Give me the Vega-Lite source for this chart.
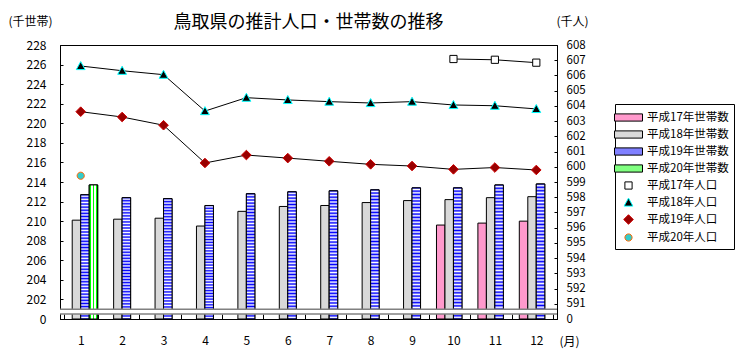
{
  "$schema": "https://vega.github.io/schema/vega-lite/v6.json",
  "width": 497,
  "height": 274,
  "autosize": "none",
  "padding": {"left": 60, "top": 45, "right": 183, "bottom": 37},
  "background": "white",
  "config": {
    "font": "Noto Sans CJK JP",
    "view": {"stroke": "black", "strokeWidth": 1},
    "axis": {"domainColor": "black", "tickColor": "black", "labelColor": "black", "labelFont": "Noto Sans CJK JP", "labelFontSize": 12, "grid": false, "titleFont": "Noto Sans CJK JP", "titleFontSize": 12, "titleFontWeight": "normal", "titleColor": "black", "labelOverlap": false}
  },
  "title": {"text": "鳥取県の推計人口・世帯数の推移", "font": "Noto Sans CJK JP", "fontSize": 18, "fontWeight": "normal", "color": "black", "frame": "group", "anchor": "middle", "baseline": "alphabetic", "offset": 17, "dy": 48},
  "datasets": {
    "households": [
      {"month": 1, "series": "平成18年世帯数", "value": 210.1},
      {"month": 1, "series": "平成19年世帯数", "value": 212.7},
      {"month": 1, "series": "平成20年世帯数", "value": 213.7},
      {"month": 2, "series": "平成18年世帯数", "value": 210.2},
      {"month": 2, "series": "平成19年世帯数", "value": 212.4},
      {"month": 3, "series": "平成18年世帯数", "value": 210.3},
      {"month": 3, "series": "平成19年世帯数", "value": 212.3},
      {"month": 4, "series": "平成18年世帯数", "value": 209.5},
      {"month": 4, "series": "平成19年世帯数", "value": 211.6},
      {"month": 5, "series": "平成18年世帯数", "value": 211.0},
      {"month": 5, "series": "平成19年世帯数", "value": 212.8},
      {"month": 6, "series": "平成18年世帯数", "value": 211.5},
      {"month": 6, "series": "平成19年世帯数", "value": 213.0},
      {"month": 7, "series": "平成18年世帯数", "value": 211.6},
      {"month": 7, "series": "平成19年世帯数", "value": 213.1},
      {"month": 8, "series": "平成18年世帯数", "value": 211.9},
      {"month": 8, "series": "平成19年世帯数", "value": 213.2},
      {"month": 9, "series": "平成18年世帯数", "value": 212.1},
      {"month": 9, "series": "平成19年世帯数", "value": 213.4},
      {"month": 10, "series": "平成17年世帯数", "value": 209.6},
      {"month": 10, "series": "平成18年世帯数", "value": 212.2},
      {"month": 10, "series": "平成19年世帯数", "value": 213.4},
      {"month": 11, "series": "平成17年世帯数", "value": 209.8},
      {"month": 11, "series": "平成18年世帯数", "value": 212.4},
      {"month": 11, "series": "平成19年世帯数", "value": 213.7},
      {"month": 12, "series": "平成17年世帯数", "value": 210.0},
      {"month": 12, "series": "平成18年世帯数", "value": 212.5},
      {"month": 12, "series": "平成19年世帯数", "value": 213.8}
    ],
    "population": [
      {"month": 10, "series": "平成17年人口", "value": 607.08},
      {"month": 11, "series": "平成17年人口", "value": 607.03},
      {"month": 12, "series": "平成17年人口", "value": 606.84},
      {"month": 1, "series": "平成18年人口", "value": 606.62},
      {"month": 2, "series": "平成18年人口", "value": 606.31},
      {"month": 3, "series": "平成18年人口", "value": 606.05},
      {"month": 4, "series": "平成18年人口", "value": 603.66},
      {"month": 5, "series": "平成18年人口", "value": 604.54},
      {"month": 6, "series": "平成18年人口", "value": 604.39},
      {"month": 7, "series": "平成18年人口", "value": 604.28},
      {"month": 8, "series": "平成18年人口", "value": 604.19},
      {"month": 9, "series": "平成18年人口", "value": 604.28},
      {"month": 10, "series": "平成18年人口", "value": 604.06},
      {"month": 11, "series": "平成18年人口", "value": 604.01},
      {"month": 12, "series": "平成18年人口", "value": 603.80},
      {"month": 1, "series": "平成19年人口", "value": 603.62},
      {"month": 2, "series": "平成19年人口", "value": 603.27},
      {"month": 3, "series": "平成19年人口", "value": 602.73},
      {"month": 4, "series": "平成19年人口", "value": 600.25},
      {"month": 5, "series": "平成19年人口", "value": 600.77},
      {"month": 6, "series": "平成19年人口", "value": 600.57},
      {"month": 7, "series": "平成19年人口", "value": 600.36},
      {"month": 8, "series": "平成19年人口", "value": 600.16},
      {"month": 9, "series": "平成19年人口", "value": 600.05},
      {"month": 10, "series": "平成19年人口", "value": 599.83},
      {"month": 11, "series": "平成19年人口", "value": 599.95},
      {"month": 12, "series": "平成19年人口", "value": 599.79},
      {"month": 1, "series": "平成20年人口", "value": 599.41}
    ]
  },
  "resolve": {"scale": {"y": "independent"}},
  "layer": [
    {
      "layer": [
        {
          "data": {"name": "households"},
          "mark": {"type": "bar", "stroke": "black", "strokeWidth": 1},
          "encoding": {
            "x": {"field": "month", "type": "ordinal", "scale": {"paddingInner": 0.18, "paddingOuter": 0.09},
              "axis": {"title": "(月)", "titleX": 509, "titleY": 22, "titleAlign": "center", "titleBaseline": "middle", "titleAngle": 0, "labelAngle": 0, "labelPadding": 21, "tickBand": "extent", "tickSize": -5}},
            "xOffset": {"field": "series", "type": "nominal", "scale": {"domain": ["平成17年世帯数", "平成18年世帯数", "平成19年世帯数", "平成20年世帯数"], "paddingInner": 0, "paddingOuter": 0}},
            "y": {"field": "value", "type": "quantitative", "scale": {"domain": [200, 228], "zero": false, "nice": false},
              "axis": {"values": [200, 202, 204, 206, 208, 210, 212, 214, 216, 218, 220, 222, 224, 226, 228], "tickCount": 15, "labelOverlap": false, "labelExpr": "datum.value === 200 ? '0' : datum.label", "title": "(千世帯)", "titleAngle": 0, "titleX": -30, "titleY": -24, "titleAlign": "center", "titleBaseline": "middle", "tickSize": -3, "labelPadding": 17}},
            "y2": {"datum": 200},
            "fill": {"field": "series", "type": "nominal",
              "scale": {"domain": ["平成17年世帯数", "平成18年世帯数", "平成19年世帯数", "平成20年世帯数", "平成17年人口", "平成18年人口", "平成19年人口", "平成20年人口"],
                        "range": ["#ff99cc", "#d9d9d9", "#8080ff", "#80ff80", "#ffffff", "#000000", "#990000", "#33cccc"]},
              "legend": {"orient": "none", "legendX": 555, "legendY": 59, "title": null, "padding": 5, "strokeColor": "black", "fillColor": "white", "symbolSize": 256, "symbolStrokeWidth": 1, "labelFont": "Noto Sans CJK JP", "labelFontSize": 11.5, "labelColor": "black", "labelOffset": 10, "rowPadding": 2,
                "encode": {"symbols": {"update": {
                  "shape": {"scale": "shape", "field": "value"},
                  "stroke": {"scale": "stroke", "field": "value"},
                  "strokeWidth": {"value": 1},
                  "opacity": {"value": 1},
                  "fill": {"signal": "datum.value === '平成19年世帯数' ? {gradient: 'linear', x1: 0, y1: 0, x2: 0, y2: 1, stops: [{offset: 0, color: '#0000ff'}, {offset: 0.2, color: '#0000ff'}, {offset: 0.2, color: '#ffffff'}, {offset: 0.4, color: '#ffffff'}, {offset: 0.4, color: '#0000ff'}, {offset: 0.6, color: '#0000ff'}, {offset: 0.6, color: '#ffffff'}, {offset: 0.8, color: '#ffffff'}, {offset: 0.8, color: '#0000ff'}, {offset: 1, color: '#0000ff'}]} : datum.value === '平成20年世帯数' ? {gradient: 'linear', x1: 0, y1: 0, x2: 1, y2: 0, stops: [{offset: 0, color: '#00ff00'}, {offset: 0.05, color: '#ffffff'}, {offset: 0.1, color: '#00ff00'}, {offset: 0.15, color: '#ffffff'}, {offset: 0.2, color: '#00ff00'}, {offset: 0.25, color: '#ffffff'}, {offset: 0.3, color: '#00ff00'}, {offset: 0.35, color: '#ffffff'}, {offset: 0.4, color: '#00ff00'}, {offset: 0.45, color: '#ffffff'}, {offset: 0.5, color: '#00ff00'}, {offset: 0.55, color: '#ffffff'}, {offset: 0.6, color: '#00ff00'}, {offset: 0.65, color: '#ffffff'}, {offset: 0.7, color: '#00ff00'}, {offset: 0.75, color: '#ffffff'}, {offset: 0.8, color: '#00ff00'}, {offset: 0.85, color: '#ffffff'}, {offset: 0.9, color: '#00ff00'}, {offset: 0.95, color: '#ffffff'}, {offset: 1, color: '#00ff00'}]} : scale('fill', datum.value)"}
                }}}}}
          }
        },
        {
          "data": {"name": "households"},
          "transform": [{"filter": "datum.series === '平成19年世帯数'"}],
          "mark": {"type": "bar", "stroke": "black", "strokeWidth": 1,
            "fill": {"gradient": "linear", "x1": 0, "y1": 0, "x2": 0, "y2": 1, "stops": [
              {"offset": 0, "color": "#0000ff"}, {"offset": 0.0125, "color": "#ffffff"}, {"offset": 0.025, "color": "#0000ff"}, {"offset": 0.0375, "color": "#ffffff"},
              {"offset": 0.05, "color": "#0000ff"}, {"offset": 0.0625, "color": "#ffffff"}, {"offset": 0.075, "color": "#0000ff"}, {"offset": 0.0875, "color": "#ffffff"},
              {"offset": 0.1, "color": "#0000ff"}, {"offset": 0.1125, "color": "#ffffff"}, {"offset": 0.125, "color": "#0000ff"}, {"offset": 0.1375, "color": "#ffffff"},
              {"offset": 0.15, "color": "#0000ff"}, {"offset": 0.1625, "color": "#ffffff"}, {"offset": 0.175, "color": "#0000ff"}, {"offset": 0.1875, "color": "#ffffff"},
              {"offset": 0.2, "color": "#0000ff"}, {"offset": 0.2125, "color": "#ffffff"}, {"offset": 0.225, "color": "#0000ff"}, {"offset": 0.2375, "color": "#ffffff"},
              {"offset": 0.25, "color": "#0000ff"}, {"offset": 0.2625, "color": "#ffffff"}, {"offset": 0.275, "color": "#0000ff"}, {"offset": 0.2875, "color": "#ffffff"},
              {"offset": 0.3, "color": "#0000ff"}, {"offset": 0.3125, "color": "#ffffff"}, {"offset": 0.325, "color": "#0000ff"}, {"offset": 0.3375, "color": "#ffffff"},
              {"offset": 0.35, "color": "#0000ff"}, {"offset": 0.3625, "color": "#ffffff"}, {"offset": 0.375, "color": "#0000ff"}, {"offset": 0.3875, "color": "#ffffff"},
              {"offset": 0.4, "color": "#0000ff"}, {"offset": 0.4125, "color": "#ffffff"}, {"offset": 0.425, "color": "#0000ff"}, {"offset": 0.4375, "color": "#ffffff"},
              {"offset": 0.45, "color": "#0000ff"}, {"offset": 0.4625, "color": "#ffffff"}, {"offset": 0.475, "color": "#0000ff"}, {"offset": 0.4875, "color": "#ffffff"},
              {"offset": 0.5, "color": "#0000ff"}, {"offset": 0.5125, "color": "#ffffff"}, {"offset": 0.525, "color": "#0000ff"}, {"offset": 0.5375, "color": "#ffffff"},
              {"offset": 0.55, "color": "#0000ff"}, {"offset": 0.5625, "color": "#ffffff"}, {"offset": 0.575, "color": "#0000ff"}, {"offset": 0.5875, "color": "#ffffff"},
              {"offset": 0.6, "color": "#0000ff"}, {"offset": 0.6125, "color": "#ffffff"}, {"offset": 0.625, "color": "#0000ff"}, {"offset": 0.6375, "color": "#ffffff"},
              {"offset": 0.65, "color": "#0000ff"}, {"offset": 0.6625, "color": "#ffffff"}, {"offset": 0.675, "color": "#0000ff"}, {"offset": 0.6875, "color": "#ffffff"},
              {"offset": 0.7, "color": "#0000ff"}, {"offset": 0.7125, "color": "#ffffff"}, {"offset": 0.725, "color": "#0000ff"}, {"offset": 0.7375, "color": "#ffffff"},
              {"offset": 0.75, "color": "#0000ff"}, {"offset": 0.7625, "color": "#ffffff"}, {"offset": 0.775, "color": "#0000ff"}, {"offset": 0.7875, "color": "#ffffff"},
              {"offset": 0.8, "color": "#0000ff"}, {"offset": 0.8125, "color": "#ffffff"}, {"offset": 0.825, "color": "#0000ff"}, {"offset": 0.8375, "color": "#ffffff"},
              {"offset": 0.85, "color": "#0000ff"}, {"offset": 0.8625, "color": "#ffffff"}, {"offset": 0.875, "color": "#0000ff"}, {"offset": 0.8875, "color": "#ffffff"},
              {"offset": 0.9, "color": "#0000ff"}, {"offset": 0.9125, "color": "#ffffff"}, {"offset": 0.925, "color": "#0000ff"}, {"offset": 0.9375, "color": "#ffffff"},
              {"offset": 0.95, "color": "#0000ff"}, {"offset": 0.9625, "color": "#ffffff"}, {"offset": 0.975, "color": "#0000ff"}, {"offset": 0.9875, "color": "#ffffff"},
              {"offset": 1, "color": "#0000ff"}]}},
          "encoding": {
            "x": {"field": "month", "type": "ordinal"},
            "xOffset": {"field": "series", "type": "nominal"},
            "y": {"field": "value", "type": "quantitative"},
            "y2": {"datum": 200}
          }
        },
        {
          "data": {"name": "households"},
          "transform": [{"filter": "datum.series === '平成20年世帯数'"}],
          "mark": {"type": "bar", "stroke": "black", "strokeWidth": 1,
            "fill": {"gradient": "linear", "x1": 0, "y1": 0, "x2": 1, "y2": 0, "stops": [
              {"offset": 0, "color": "#00ff00"}, {"offset": 0.25, "color": "#00ff00"}, {"offset": 0.25, "color": "#ffffff"}, {"offset": 0.4, "color": "#ffffff"},
              {"offset": 0.4, "color": "#00ff00"}, {"offset": 0.6, "color": "#00ff00"}, {"offset": 0.6, "color": "#ffffff"}, {"offset": 0.75, "color": "#ffffff"},
              {"offset": 0.75, "color": "#00ff00"}, {"offset": 1, "color": "#00ff00"}]}},
          "encoding": {
            "x": {"field": "month", "type": "ordinal"},
            "xOffset": {"field": "series", "type": "nominal"},
            "y": {"field": "value", "type": "quantitative"},
            "y2": {"datum": 200}
          }
        },
        {
          "data": {"values": [{}]},
          "mark": {"type": "rule", "color": "white", "strokeWidth": 5},
          "encoding": {"y": {"datum": 200.76}}
        },
        {
          "data": {"values": [{}]},
          "mark": {"type": "rule", "color": "#808080", "strokeWidth": 1.5},
          "encoding": {"y": {"datum": 201.0}}
        },
        {
          "data": {"values": [{}]},
          "mark": {"type": "rule", "color": "#808080", "strokeWidth": 1.5},
          "encoding": {"y": {"datum": 200.52}}
        }
      ]
    },
    {
      "data": {"name": "population"},
      "encoding": {
        "x": {"field": "month", "type": "ordinal"},
        "y": {"field": "value", "type": "quantitative", "scale": {"domain": [590, 608], "zero": false, "nice": false},
          "axis": {"orient": "right", "values": [590, 591, 592, 593, 594, 595, 596, 597, 598, 599, 600, 601, 602, 603, 604, 605, 606, 607, 608], "tickCount": 19, "labelOverlap": false, "labelFontSize": 11.5, "labelExpr": "datum.value === 590 ? '0' : datum.label", "title": "(千人)", "titleAngle": 0, "titleX": 15, "titleY": -24, "titleAlign": "center", "titleBaseline": "middle", "tickSize": -3, "labelPadding": 12}}
      },
      "layer": [
        {
          "mark": {"type": "line", "color": "black", "strokeWidth": 1},
          "encoding": {
            "detail": {"field": "series", "type": "nominal"}
          }
        },
        {
          "mark": {"type": "point", "filled": true, "size": 256, "strokeWidth": 1, "opacity": 1},
          "encoding": {
            "fill": {"field": "series", "type": "nominal",
              "scale": {"domain": ["平成17年世帯数", "平成18年世帯数", "平成19年世帯数", "平成20年世帯数", "平成17年人口", "平成18年人口", "平成19年人口", "平成20年人口"],
                        "range": ["#ff99cc", "#d9d9d9", "#8080ff", "#80ff80", "#ffffff", "#000000", "#990000", "#33cccc"]}},
            "stroke": {"field": "series", "type": "nominal", "legend": null,
              "scale": {"domain": ["平成17年世帯数", "平成18年世帯数", "平成19年世帯数", "平成20年世帯数", "平成17年人口", "平成18年人口", "平成19年人口", "平成20年人口"],
                        "range": ["#000000", "#000000", "#000000", "#000000", "#000000", "#00ffff", "#cc0000", "#ff6600"]}},
            "shape": {"field": "series", "type": "nominal", "legend": null,
              "scale": {"domain": ["平成17年世帯数", "平成18年世帯数", "平成19年世帯数", "平成20年世帯数", "平成17年人口", "平成18年人口", "平成19年人口", "平成20年人口"],
                        "range": ["M-1.75,-0.45H1.75V0.45H-1.75Z", "M-1.75,-0.45H1.75V0.45H-1.75Z", "M-1.75,-0.45H1.75V0.45H-1.75Z", "M-1.75,-0.45H1.75V0.45H-1.75Z", "M-0.45,-0.45H0.45V0.45H-0.45Z", "M0,-0.55L0.55,0.45H-0.55Z", "M0,-0.6L0.6,0L0,0.6L-0.6,0Z", "M-0.45,0A0.45,0.45,0,1,1,0.45,0A0.45,0.45,0,1,1,-0.45,0Z"]}}
          }
        }
      ]
    }
  ]
}
